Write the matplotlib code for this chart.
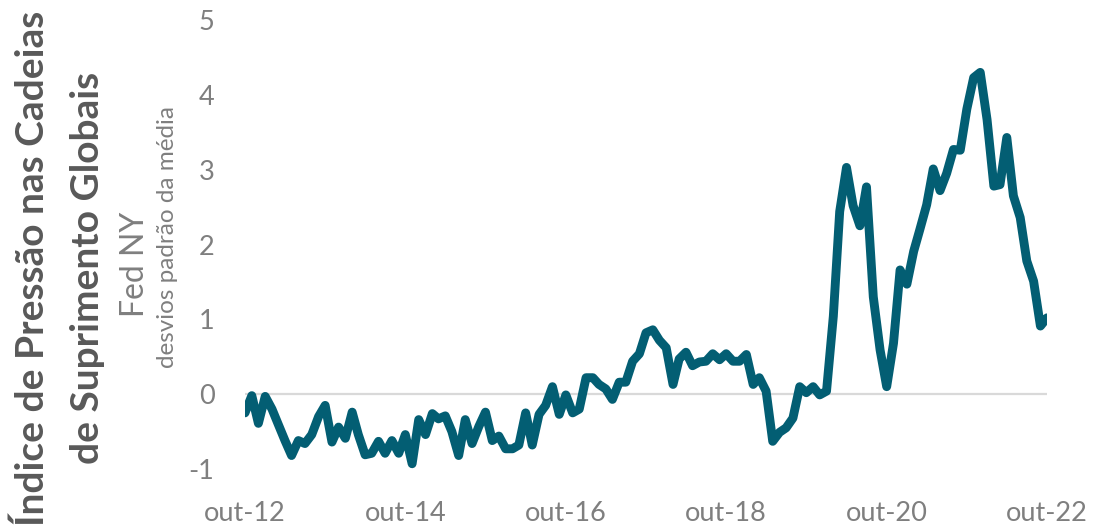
import numpy as np
import pandas as pd
import matplotlib
matplotlib.use("Agg")
import matplotlib.pyplot as plt

# ---- data ----
months = pd.date_range("2012-10-01", "2022-10-01", freq="MS")

gscpi = [
    -0.25, -0.02, -0.39, -0.03, -0.20, -0.40, -0.62, -0.82, -0.62, -0.66,
    -0.54, -0.30, -0.15, -0.64, -0.44, -0.59, -0.24, -0.54, -0.81, -0.79,
    -0.63, -0.79, -0.62, -0.79, -0.54, -0.93, -0.34, -0.54, -0.26, -0.33,
    -0.29, -0.50, -0.82, -0.34, -0.66, -0.43, -0.24, -0.62, -0.56, -0.73,
    -0.73, -0.68, -0.25, -0.68, -0.27, -0.15, 0.10, -0.27, -0.01, -0.25,
    -0.20, 0.22, 0.22, 0.13, 0.07, -0.07, 0.16, 0.16, 0.44, 0.54,
    0.82, 0.86, 0.72, 0.62, 0.13, 0.47, 0.56, 0.38, 0.43, 0.44,
    0.54, 0.46, 0.54, 0.44, 0.44, 0.53, 0.13, 0.22, 0.04, -0.63,
    -0.51, -0.45, -0.32, 0.10, 0.02, 0.10, -0.01, 0.04, 1.04, 2.44,
    3.03, 2.52, 2.25, 2.77, 1.30, 0.59, 0.10, 0.68, 1.66, 1.47,
    1.91, 2.20, 2.53, 3.01, 2.72, 2.95, 3.27, 3.26, 3.81, 4.23,
    4.30, 3.67, 2.78, 2.80, 3.43, 2.65, 2.36, 1.78, 1.51, 0.91,
    1.02,
]

tick_labels = ["out-12", "out-14", "out-16", "out-18", "out-20", "out-22"]
y_ticks = [-1, 0, 1, 2, 3, 4, 5]

# ---- style ----
plt.rcParams['font.family'] = ['Lato', 'DejaVu Sans']
line_color = '#035E73'
gray = '#7F7F7F'
dark = '#595959'

W, H = 1094, 528
fig = plt.figure(figsize=(W / 100, H / 100), dpi=100)
ax = fig.add_axes([245 / W, 1 - 469 / H, (1047 - 245) / W, (469 - 20) / H])

ax.axhline(0, color='#D9D9D9', lw=1.6, zorder=1)
ax.plot(months, gscpi, color=line_color, lw=6.4, solid_joinstyle='round',
        solid_capstyle='round', zorder=3)

ax.set_xlim(months[0], months[-1])
ax.set_ylim(-1, 5)

ax.set_xticks(months[::24])
ax.set_xticklabels(tick_labels)
ax.set_yticks(y_ticks)
ax.set_yticklabels([str(v) for v in y_ticks])
ax.tick_params(axis='both', length=0, labelsize=19.5, labelcolor=gray)
ax.tick_params(axis='x', pad=23)
ax.tick_params(axis='y', pad=22)

for s in ax.spines.values():
    s.set_visible(False)

# ---- vertical titles on the left ----
fig.text(32 / W, 1 - 268 / H, "Índice de Pressão nas Cadeias", rotation=90,
         ha='center', va='center', fontsize=28, fontweight='bold', color=dark)
fig.text(88 / W, 1 - 268 / H, "de Suprimento Globais", rotation=90,
         ha='center', va='center', fontsize=28, fontweight='bold', color=dark)
fig.text(135 / W, 1 - 264 / H, "Fed NY", rotation=90,
         ha='center', va='center', fontsize=23, color=gray)
fig.text(168 / W, 1 - 237 / H, "desvios padrão da média", rotation=90,
         ha='center', va='center', fontsize=17.5, color=gray)

fig.savefig("out.png", dpi=100)
